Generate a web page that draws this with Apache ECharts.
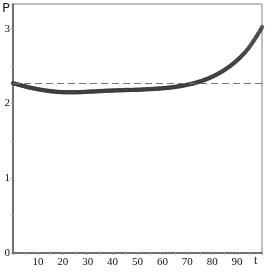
<!DOCTYPE html>
<html>
<head>
<meta charset="utf-8">
<script src="https://cdn.jsdelivr.net/npm/echarts@6/dist/echarts.min.js"></script>
<style>
html,body{margin:0;padding:0;background:#fff;}
#c{width:273px;height:272px;}
</style>
</head>
<body>
<div id="c"></div>
<script>
// sampling step of t
const tStep = 0.5;
// P values at t = 0, 0.5, 1, ..., 100
const pValues = [
2.270,2.266,2.262,2.258,2.253,2.249,2.244,2.240,2.235,2.231,
2.227,2.223,2.219,2.215,2.211,2.208,2.204,2.201,2.197,2.194,
2.191,2.188,2.185,2.182,2.179,2.177,2.174,2.172,2.169,2.167,
2.165,2.163,2.161,2.160,2.158,2.157,2.155,2.154,2.153,2.152,
2.151,2.150,2.150,2.149,2.149,2.149,2.149,2.149,2.149,2.150,
2.150,2.150,2.151,2.151,2.152,2.153,2.154,2.154,2.155,2.156,
2.157,2.158,2.159,2.159,2.160,2.161,2.162,2.163,2.164,2.165,
2.166,2.166,2.167,2.168,2.169,2.170,2.171,2.171,2.172,2.173,
2.174,2.174,2.175,2.175,2.176,2.176,2.177,2.177,2.178,2.178,
2.179,2.179,2.180,2.180,2.181,2.181,2.182,2.182,2.183,2.183,
2.184,2.184,2.185,2.186,2.187,2.187,2.188,2.189,2.190,2.191,
2.192,2.193,2.194,2.195,2.196,2.197,2.198,2.199,2.200,2.201,
2.203,2.204,2.206,2.207,2.209,2.211,2.213,2.215,2.217,2.219,
2.221,2.223,2.226,2.228,2.231,2.234,2.237,2.240,2.243,2.246,
2.250,2.253,2.257,2.261,2.265,2.269,2.274,2.278,2.283,2.288,
2.293,2.298,2.304,2.310,2.316,2.322,2.329,2.336,2.343,2.350,
2.358,2.366,2.374,2.382,2.391,2.400,2.409,2.419,2.429,2.439,
2.450,2.461,2.472,2.484,2.496,2.509,2.522,2.535,2.549,2.563,
2.578,2.593,2.609,2.625,2.642,2.659,2.677,2.695,2.714,2.735,
2.758,2.781,2.805,2.830,2.855,2.881,2.907,2.934,2.962,2.991,
3.020
];
// reference (dashed) level
const refLevel = [2.27];
// tick labels
const xTickLabels = ['10','20','30','40','50','60','70','80','90'];
const yTickLabels = ['0','1','2','3'];
const axisNames = ['t','P'];

const points = pValues.map((p, i) => [i * tStep, p]);

const chart = echarts.init(document.getElementById('c'), null, {renderer:'canvas'});
const serif = '"Liberation Serif", "DejaVu Serif", serif';
chart.setOption({
  animation: false,
  grid: {left: 13, right: 11, top: 4, bottom: 19, show: true, borderColor: '#808080', borderWidth: 1},
  xAxis: {
    type: 'value', min: 0, max: 100, interval: 10,
    axisLine: {show: true, onZero: false, lineStyle: {color: '#555', width: 1.5}},
    axisTick: {show: true, length: 2, lineStyle: {color: '#999'}},
    minorTick: {show: true, splitNumber: 2, length: 2, lineStyle: {color: '#bbb'}},
    splitLine: {show: false},
    axisLabel: {
      fontFamily: serif, fontSize: 11, color: '#111', margin: 4,
      formatter: v => xTickLabels.includes(String(v)) ? String(v) : ''
    }
  },
  yAxis: {
    type: 'value', min: 0, max: 3.33, interval: 1,
    axisLine: {show: true, onZero: false, lineStyle: {color: '#555', width: 1.5}},
    axisTick: {show: true, length: 2, lineStyle: {color: '#999'}},
    minorTick: {show: true, splitNumber: 2, length: 2, lineStyle: {color: '#bbb'}},
    splitLine: {show: false},
    axisLabel: {
      fontFamily: serif, fontSize: 11, color: '#111', margin: 3,
      formatter: v => yTickLabels.includes(String(v)) ? String(v) : ''
    }
  },
  graphic: [
    {type: 'text', left: 2, top: 2, style: {text: axisNames[1], font: '13px "DejaVu Sans", sans-serif', fill: '#222'}},
    {type: 'text', left: 254, top: 255, style: {text: axisNames[0], font: '12px "Liberation Serif", serif', fill: '#222'}}
  ],
  series: [{
    type: 'scatter',
    data: points,
    symbol: 'emptyCircle',
    symbolSize: 2.4,
    itemStyle: {color: '#333', borderWidth: 0.7},
    markLine: {
      silent: true, symbol: 'none', label: {show: false},
      lineStyle: {color: '#777', type: [7, 4], width: 1},
      data: [{yAxis: refLevel[0]}]
    }
  }]
});
</script>
</body>
</html>
